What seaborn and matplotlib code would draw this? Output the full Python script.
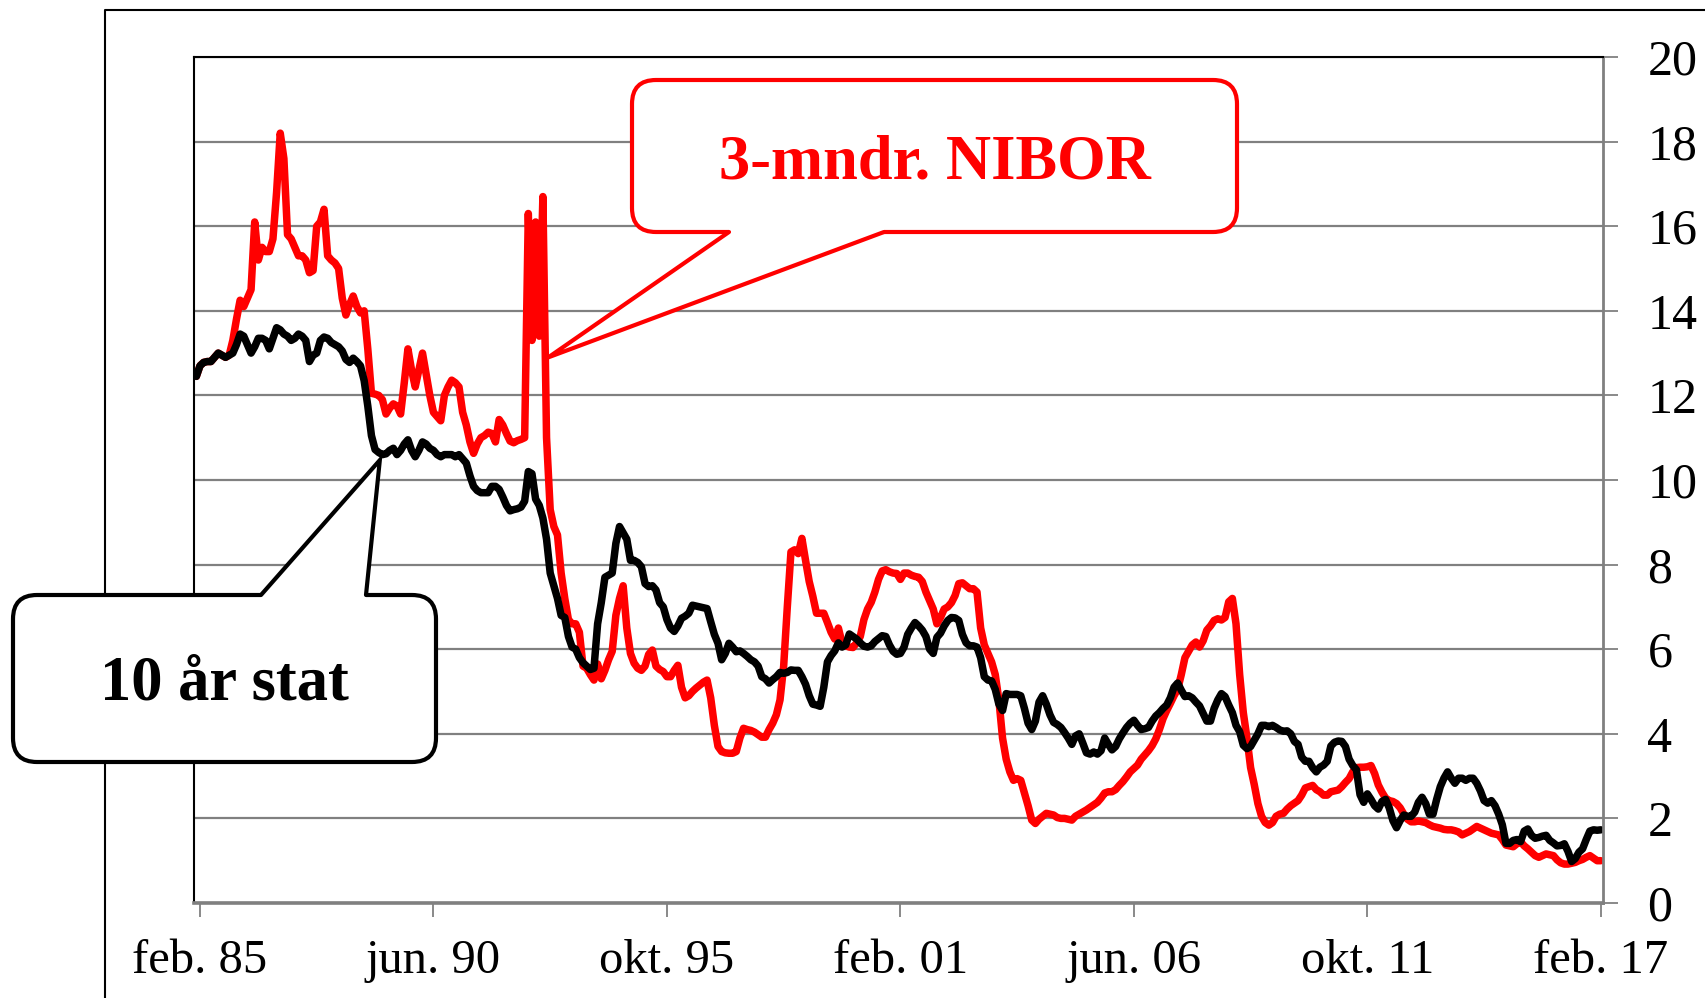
"""3-mndr. NIBOR og 10 år stat, månedlige renter jan. 85 - feb. 17 (prosent)."""
import matplotlib
matplotlib.use("Agg")  # ingen skjerm
import matplotlib.pyplot as plt  # noqa: E402
from matplotlib.lines import Line2D  # noqa: E402
from matplotlib.patches import FancyBboxPatch, Polygon  # noqa: E402
from matplotlib.transforms import IdentityTransform  # noqa: E402
import numpy as np  # noqa: E402
import pandas as pd  # noqa: E402
import seaborn as sns  # noqa: E402

# Månedsverdier fra jan. 85 til feb. 17 (prosent).
nibor = [
    12.45, 12.7, 12.78, 12.8, 12.8, 12.9, 13.0, 12.95, 12.9, 12.95, 13.3, 13.8,    # 1985
    14.25, 14.1, 14.3, 14.5, 16.1, 15.2, 15.5, 15.4, 15.4, 15.7, 16.8, 18.2,       # 1986
    17.6, 15.8, 15.7, 15.5, 15.3, 15.3, 15.2, 14.9, 14.95, 16.0, 16.1, 16.4,       # 1987
    15.3, 15.2, 15.13, 15.0, 14.3, 13.9, 14.15, 14.35, 14.1, 13.95, 14.0, 13.1,    # 1988
    12.05, 12.03, 12.0, 11.9, 11.56, 11.7, 11.8, 11.75, 11.56, 12.3, 13.1, 12.6,   # 1989
    12.2, 12.6, 13.0, 12.5, 12.0, 11.6, 11.5, 11.4, 12.0, 12.2, 12.36, 12.3,       # 1990
    12.2, 11.6, 11.3, 10.9, 10.63, 10.85, 11.0, 11.05, 11.13, 11.1, 10.9, 11.43,   # 1991
    11.3, 11.1, 10.92, 10.88, 10.93, 10.96, 11.0, 16.3, 13.3, 16.1, 13.4, 16.7,    # 1992
    11.0, 9.3, 8.9, 8.7, 7.8, 7.2, 6.7, 6.6, 6.6, 6.4, 5.6, 5.55,                  # 1993
    5.4, 5.27, 5.65, 5.3, 5.5, 5.75, 5.95, 6.8, 7.2, 7.5, 6.5, 5.9,                # 1994
    5.67, 5.55, 5.5, 5.6, 5.88, 5.98, 5.6, 5.52, 5.47, 5.35, 5.35, 5.5,            # 1995
    5.62, 5.1, 4.85, 4.9, 5.0, 5.08, 5.15, 5.22, 5.27, 4.85, 4.2, 3.7,             # 1996
    3.58, 3.55, 3.54, 3.54, 3.58, 3.9, 4.13, 4.1, 4.08, 4.04, 3.98, 3.92,          # 1997
    3.92, 4.1, 4.25, 4.45, 4.8, 5.6, 7.0, 8.3, 8.35, 8.26, 8.62, 8.1,              # 1998
    7.6, 7.25, 6.85, 6.85, 6.85, 6.63, 6.4, 6.24, 6.5, 6.15, 6.08, 6.05,           # 1999
    6.04, 6.15, 6.3, 6.7, 6.95, 7.11, 7.35, 7.65, 7.85, 7.88, 7.83, 7.8,           # 2000
    7.79, 7.65, 7.8, 7.8, 7.75, 7.72, 7.7, 7.6, 7.35, 7.15, 6.95, 6.6,             # 2001
    6.75, 6.95, 7.0, 7.1, 7.27, 7.55, 7.57, 7.5, 7.43, 7.43, 7.35, 6.5,            # 2002
    6.1, 5.9, 5.7, 5.4, 4.8, 3.9, 3.4, 3.1, 2.9, 2.94, 2.9, 2.6,                   # 2003
    2.3, 1.96, 1.88, 1.98, 2.05, 2.12, 2.1, 2.08, 2.02, 2.0, 2.0, 1.98,            # 2004
    1.96, 2.05, 2.1, 2.15, 2.2, 2.26, 2.32, 2.38, 2.48, 2.6, 2.63, 2.63,           # 2005
    2.68, 2.78, 2.87, 2.98, 3.1, 3.18, 3.26, 3.4, 3.5, 3.6, 3.72, 3.88,            # 2006
    4.1, 4.36, 4.55, 4.72, 4.9, 5.05, 5.4, 5.8, 5.95, 6.1, 6.17, 6.05,             # 2007
    6.2, 6.45, 6.55, 6.68, 6.72, 6.69, 6.75, 7.12, 7.2, 6.6, 5.4, 4.5,             # 2008
    3.9, 3.2, 2.8, 2.35, 2.05, 1.9, 1.84, 1.9, 2.05, 2.1, 2.12, 2.22,              # 2009
    2.3, 2.36, 2.42, 2.55, 2.72, 2.75, 2.78, 2.68, 2.63, 2.55, 2.55, 2.63,         # 2010
    2.65, 2.67, 2.75, 2.85, 2.94, 3.1, 3.2, 3.21, 3.21, 3.22, 3.25, 3.06,          # 2011
    2.79, 2.62, 2.48, 2.42, 2.4, 2.35, 2.25, 2.1, 1.98, 1.92, 1.92, 1.94,          # 2012
    1.92, 1.9, 1.85, 1.81, 1.79, 1.77, 1.74, 1.73, 1.73, 1.71, 1.68, 1.61,         # 2013
    1.65, 1.69, 1.75, 1.81, 1.77, 1.73, 1.69, 1.65, 1.63, 1.61, 1.5, 1.37,         # 2014
    1.35, 1.33, 1.4, 1.45, 1.35, 1.28, 1.2, 1.12, 1.08, 1.12, 1.16, 1.14,          # 2015
    1.12, 1.02, 0.95, 0.92, 0.92, 0.94, 0.96, 1.0, 1.03, 1.08, 1.12, 1.06,         # 2016
    1.0, 1.0,                                                                      # 2017
]

stat10 = [
    12.45, 12.7, 12.78, 12.8, 12.8, 12.9, 13.0, 12.95, 12.9, 12.95, 13.0, 13.2,    # 1985
    13.45, 13.4, 13.2, 13.0, 13.15, 13.35, 13.35, 13.3, 13.1, 13.35, 13.6, 13.55,  # 1986
    13.45, 13.4, 13.3, 13.35, 13.45, 13.4, 13.3, 12.8, 12.95, 13.0, 13.3, 13.38,   # 1987
    13.35, 13.25, 13.2, 13.15, 13.05, 12.85, 12.78, 12.88, 12.8, 12.7, 12.35, 11.75,  # 1988
    11.05, 10.72, 10.65, 10.6, 10.62, 10.7, 10.75, 10.6, 10.7, 10.85, 10.95, 10.7,  # 1989
    10.55, 10.7, 10.9, 10.85, 10.75, 10.7, 10.6, 10.55, 10.6, 10.6, 10.6, 10.55,   # 1990
    10.6, 10.5, 10.4, 10.1, 9.85, 9.75, 9.7, 9.7, 9.7, 9.85, 9.85, 9.78,           # 1991
    9.6, 9.4, 9.27, 9.3, 9.32, 9.36, 9.5, 10.2, 10.15, 9.55, 9.4, 9.1,             # 1992
    8.6, 7.8, 7.5, 7.2, 6.8, 6.75, 6.3, 6.05, 6.0, 5.8, 5.68, 5.6,                 # 1993
    5.52, 5.55, 6.6, 7.1, 7.7, 7.75, 7.8, 8.5, 8.9, 8.75, 8.6, 8.1,                # 1994
    8.1, 8.05, 7.95, 7.55, 7.48, 7.5, 7.4, 7.1, 7.0, 6.7, 6.5, 6.42,               # 1995
    6.55, 6.73, 6.78, 6.85, 7.04, 7.02, 7.0, 6.98, 6.96, 6.65, 6.35, 6.14,         # 1996
    5.75, 5.9, 6.14, 6.05, 5.94, 5.96, 5.9, 5.83, 5.75, 5.7, 5.6, 5.35,            # 1997
    5.3, 5.2, 5.28, 5.35, 5.45, 5.43, 5.45, 5.51, 5.5, 5.5, 5.35, 5.17,            # 1998
    4.9, 4.7, 4.68, 4.65, 5.1, 5.7, 5.85, 5.96, 6.15, 6.05, 6.1, 6.36,             # 1999
    6.3, 6.24, 6.15, 6.07, 6.05, 6.08, 6.18, 6.25, 6.32, 6.3, 6.1, 5.95,           # 2000
    5.88, 5.9, 6.05, 6.35, 6.5, 6.63, 6.55, 6.45, 6.3, 6.0, 5.9, 6.28,             # 2001
    6.38, 6.55, 6.68, 6.75, 6.74, 6.68, 6.35, 6.15, 6.08, 6.08, 6.05, 5.8,         # 2002
    5.35, 5.27, 5.25, 5.05, 4.7, 4.55, 4.95, 4.93, 4.93, 4.93, 4.9, 4.6,           # 2003
    4.25, 4.1, 4.3, 4.75, 4.9, 4.7, 4.45, 4.27, 4.22, 4.15, 4.03, 3.9,             # 2004
    3.75, 3.95, 4.0, 3.78, 3.55, 3.52, 3.57, 3.52, 3.6, 3.9, 3.75, 3.62,           # 2005
    3.7, 3.88, 4.02, 4.15, 4.25, 4.32, 4.2, 4.1, 4.12, 4.15, 4.3, 4.42,            # 2006
    4.5, 4.6, 4.68, 4.85, 5.1, 5.2, 5.03, 4.88, 4.9, 4.85, 4.75, 4.66,             # 2007
    4.48, 4.3, 4.3, 4.6, 4.8, 4.95, 4.88, 4.68, 4.5, 4.2, 4.05, 3.73,              # 2008
    3.65, 3.7, 3.85, 4.0, 4.2, 4.2, 4.17, 4.2, 4.15, 4.09, 4.06, 4.07,             # 2009
    4.0, 3.82, 3.75, 3.45, 3.35, 3.35, 3.2, 3.1, 3.21, 3.26, 3.35, 3.71,           # 2010
    3.8, 3.83, 3.82, 3.7, 3.4, 3.25, 3.15, 2.56, 2.38, 2.58, 2.45, 2.3,            # 2011
    2.22, 2.4, 2.45, 2.25, 1.95, 1.78, 1.95, 2.08, 2.05, 2.05, 2.15, 2.38,         # 2012
    2.5, 2.35, 2.1, 2.1, 2.45, 2.75, 2.95, 3.1, 2.95, 2.83, 2.95, 2.95,            # 2013
    2.9, 2.95, 2.95, 2.83, 2.65, 2.42, 2.36, 2.42, 2.3, 2.1, 1.85, 1.41,           # 2014
    1.41, 1.48, 1.5, 1.45, 1.7, 1.75, 1.6, 1.53, 1.55, 1.58, 1.6, 1.48,            # 2015
    1.42, 1.35, 1.36, 1.4, 1.22, 0.98, 1.05, 1.2, 1.28, 1.5, 1.7, 1.73,            # 2016
    1.72, 1.73,                                                                    # 2017
]

serie_navn = ["3-mndr. NIBOR", "10 år stat"]
tick_labels = ["feb. 85", "jun. 90", "okt. 95", "feb. 01", "jun. 06", "okt. 11", "feb. 17"]
tick_step = 64          # måneder mellom etikettene, første etikett = feb. 85
y_ticks = list(range(0, 21, 2))

W, H, DPI = 1706, 998, 100
RED, BLACK, GREY = "#ff0000", "#000000", "#808080"

df = pd.DataFrame({"mnd": np.arange(len(nibor)),
                   serie_navn[0]: nibor, serie_navn[1]: stat10})
long = df.melt(id_vars="mnd", var_name="serie", value_name="rente")

sns.set_theme(style="white")
plt.rcParams["font.family"] = ["Liberation Serif", "DejaVu Serif"]

fig = plt.figure(figsize=(W / DPI, H / DPI), dpi=DPI, facecolor="white")
ax = fig.add_axes([194 / W, 1 - 903 / H, (1603 - 194) / W, (903 - 57) / H])

sns.lineplot(data=long, x="mnd", y="rente", hue="serie", hue_order=serie_navn,
             palette={serie_navn[0]: RED, serie_navn[1]: BLACK}, estimator=None,
             lw=5.4, legend=False, ax=ax, solid_joinstyle="round", solid_capstyle="round")

ax.set_xlim(-0.64, 385.6)
ax.set_ylim(0, 20)
ax.set_xlabel(""); ax.set_ylabel("")
ax.set_xticks(np.arange(1, len(nibor), tick_step))
ax.set_xticklabels(tick_labels)
ax.yaxis.tick_right()
ax.set_yticks(y_ticks)
ax.set_yticklabels([str(v) for v in y_ticks])
ax.grid(axis="y", color=GREY, lw=1.6)
ax.grid(axis="x", visible=False)
ax.set_axisbelow(True)
ax.tick_params(axis="x", direction="out", length=10, width=1.3, color=GREY,
               labelsize=35, labelcolor=BLACK, pad=16, bottom=True)
ax.tick_params(axis="y", direction="out", length=11, width=1.3, color=GREY,
               labelsize=36, labelcolor=BLACK, pad=21, right=True, left=False)
for side, col, lw in [("left", BLACK, 1.5), ("top", BLACK, 1.5),
                      ("right", GREY, 2.0), ("bottom", GREY, 2.6)]:
    ax.spines[side].set_color(col)
    ax.spines[side].set_linewidth(lw)
    ax.spines[side].set_visible(True)

# ytre ramme rundt hele diagrammet (høyre og nedre kant er utenfor bildet)
px = IdentityTransform()
fig.add_artist(Line2D([105, 105, W + 5], [-5, H - 10, H - 10], transform=px,
                      color=BLACK, lw=1.5))


def callout(text, box, base_x, tip, color, baseline):
    """Avrundet boks med spiss mot et punkt i diagrammet. box i piksler fra øvre venstre hjørne."""
    x0, y0, x1, y1 = box
    fig.add_artist(FancyBboxPatch((x0, H - y1), x1 - x0, y1 - y0,
                                  boxstyle="round,pad=0,rounding_size=24", transform=px,
                                  fc="white", ec=color, lw=3.0, zorder=10))
    tx, ty = ax.transData.transform(tip)
    by = H - (y1 if ty < H - y1 else y0)
    inside = 5 if ty < by else -5
    bx0, bx1 = base_x
    fig.add_artist(Polygon([(bx0, by + inside), (bx1, by + inside), (bx1, by), (tx, ty), (bx0, by)],
                           closed=True, transform=px, fc="white", ec="none", zorder=11))
    fig.add_artist(Line2D([bx0, tx, bx1], [by, ty, by], transform=px, color=color,
                          lw=3.0, zorder=12, solid_joinstyle="miter"))
    fig.text((x0 + x1) / 2 / W, 1 - baseline / H, text, ha="center", va="baseline",
             fontsize=45, fontweight="bold", color=color, zorder=13)


callout(serie_navn[0], (632, 80, 1237, 232), (729, 884), (96.5, 12.9), RED, 178)
callout(serie_navn[1], (13, 595, 436, 762), (261, 366), (50.3, 10.47), BLACK, 700)

fig.savefig("out.png", dpi=DPI)
plt.close(fig)
